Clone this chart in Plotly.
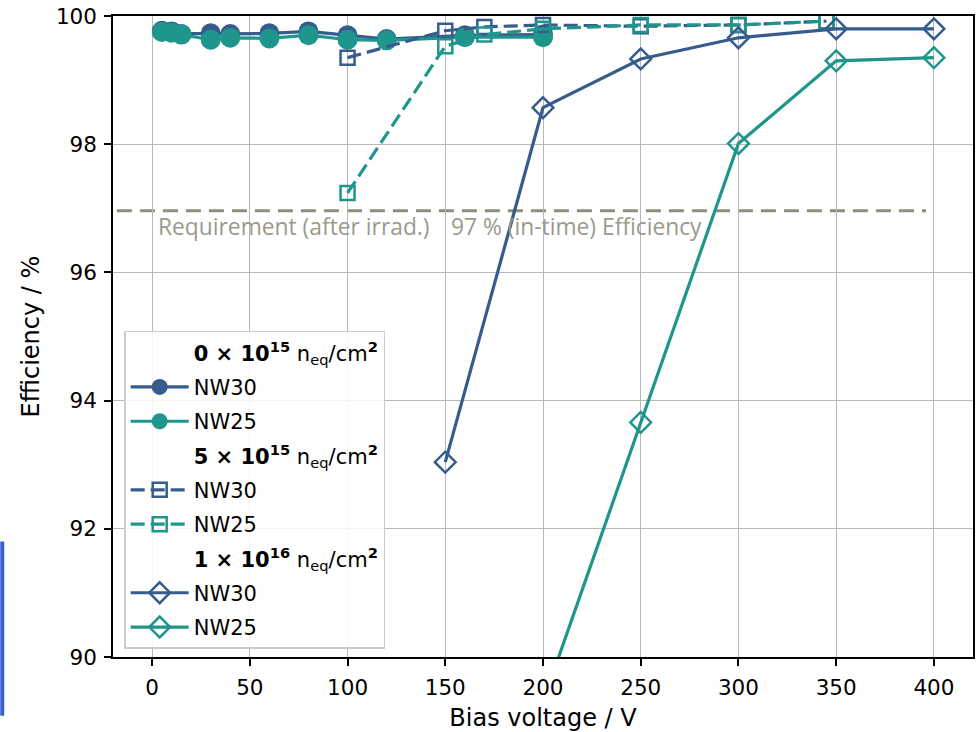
import plotly.graph_objects as go

# ---- data ----
v_0e15 = [5, 10, 15, 30, 40, 60, 80, 100, 120, 160, 200]
eff_nw30_0e15 = [99.77, 99.76, 99.72, 99.73, 99.72, 99.73, 99.76, 99.70, 99.64, 99.70, 99.71]
eff_nw25_0e15 = [99.75, 99.74, 99.71, 99.63, 99.66, 99.65, 99.70, 99.63, 99.62, 99.67, 99.67]

v_5e15 = [100, 150, 170, 200, 250, 300, 345]
eff_nw30_5e15 = [99.35, 99.77, 99.83, 99.86, 99.84, 99.86, 99.92]
eff_nw25_5e15 = [97.24, 99.53, 99.71, 99.80, 99.86, 99.86, 99.92]

v_1e16_nw30 = [150, 200, 250, 300, 350, 400]
eff_nw30_1e16 = [93.04, 98.57, 99.33, 99.66, 99.80, 99.80]
v_1e16_nw25 = [200, 250, 300, 350, 400]
eff_nw25_1e16 = [89.3, 93.66, 98.01, 99.30, 99.35]

requirement = 96.96
x_ticks = [0, 50, 100, 150, 200, 250, 300, 350, 400]
y_ticks = [90, 92, 94, 96, 98, 100]

headers = [
    "<b>0 × 10<sup>15</sup></b> n<sub>eq</sub>/cm<b><sup>2</sup></b>",
    "<b>5 × 10<sup>15</sup></b> n<sub>eq</sub>/cm<b><sup>2</sup></b>",
    "<b>1 × 10<sup>16</sup></b> n<sub>eq</sub>/cm<b><sup>2</sup></b>",
]

BLUE = "#365c8d"
TEAL = "#1f968b"
GRAY = "#8e8e80"

fig = go.Figure()
gid = [0]


def add_header(name):
    gid[0] += 1
    fig.add_trace(go.Scatter(x=[None], y=[None], mode="lines", name=name,
                             line=dict(color="rgba(0,0,0,0)", width=0),
                             legendgroup=f"g{gid[0]}", hoverinfo="skip"))


def add_series(x, y, name, color, symbol, dash, size):
    gid[0] += 1
    filled = not symbol.endswith("open")
    fig.add_trace(go.Scatter(
        x=x, y=y, mode="lines+markers", name=name, legendgroup=f"g{gid[0]}",
        line=dict(color=color, width=3.2, dash=dash),
        marker=dict(symbol=symbol, size=size, color=color,
                    line=dict(color=color, width=0 if filled else 2.5)),
        cliponaxis=True))


add_header(headers[0])
add_series(v_0e15, eff_nw30_0e15, "NW30", BLUE, "circle", "solid", 20)
add_series(v_0e15, eff_nw25_0e15, "NW25", TEAL, "circle", "solid", 20)
add_header(headers[1])
add_series(v_5e15, eff_nw30_5e15, "NW30", BLUE, "square-open", "14px,6px", 14)
add_series(v_5e15, eff_nw25_5e15, "NW25", TEAL, "square-open", "14px,6px", 14)
add_header(headers[2])
add_series(v_1e16_nw30, eff_nw30_1e16, "NW30", BLUE, "diamond-open", "solid", 16)
add_series(v_1e16_nw25, eff_nw25_1e16, "NW25", TEAL, "diamond-open", "solid", 16)

# requirement line
fig.add_shape(type="line", xref="x", yref="y", x0=-18, x1=396,
              y0=requirement, y1=requirement,
              line=dict(color=GRAY, width=3, dash="15px,8px"), layer="below")
fig.add_annotation(x=2, y=96.72, xref="x", yref="y", xanchor="left", yanchor="middle",
                   text="Requirement (after irrad.)", showarrow=False,
                   font=dict(family="Open Sans", size=22.8, color="#9a9a8c"))
fig.add_annotation(x=152, y=96.72, xref="x", yref="y", xanchor="left", yanchor="middle",
                   text="97 % (in-time) Efficiency", showarrow=False,
                   font=dict(family="Open Sans", size=22.8, color="#9a9a8c"))

# cropped slide artefact at the left edge
fig.add_shape(type="rect", xref="paper", yref="paper", x0=-0.1311, x1=-0.1265,
              y0=-0.0916, y1=0.180, line=dict(width=0), fillcolor="#3a5fd0")

axis_common = dict(showline=True, mirror=True, linecolor="black", linewidth=1.5,
                   ticks="outside", ticklen=7, tickwidth=1.5, tickcolor="black",
                   showgrid=True, gridcolor="#b8b8b8", gridwidth=1.3, zeroline=False,
                   ticklabelstandoff=3,
                   tickfont=dict(family="DejaVu Sans", size=21.5, color="black"))

fig.update_layout(
    width=979, height=732,
    margin=dict(l=113, r=4, t=15, b=73),
    paper_bgcolor="white", plot_bgcolor="white",
    showlegend=True,
    legend=dict(x=0.013, y=0.0125, xanchor="left", yanchor="bottom",
                bgcolor="rgba(255,255,255,0.85)", bordercolor="#cccccc", borderwidth=1.5,
                font=dict(family="DejaVu Sans", size=21, color="black"),
                tracegroupgap=4, itemwidth=58, traceorder="grouped"),
    xaxis=dict(range=[-20, 420], tickvals=x_ticks,
               title=dict(text="Bias voltage / V", standoff=12,
                          font=dict(family="DejaVu Sans", size=24, color="black")),
               **axis_common),
    yaxis=dict(range=[90, 100], tickvals=y_ticks,
               title=dict(text="Efficiency / %", standoff=10,
                          font=dict(family="DejaVu Sans", size=24, color="black")),
               **axis_common),
)

fig.write_html("out.html")
